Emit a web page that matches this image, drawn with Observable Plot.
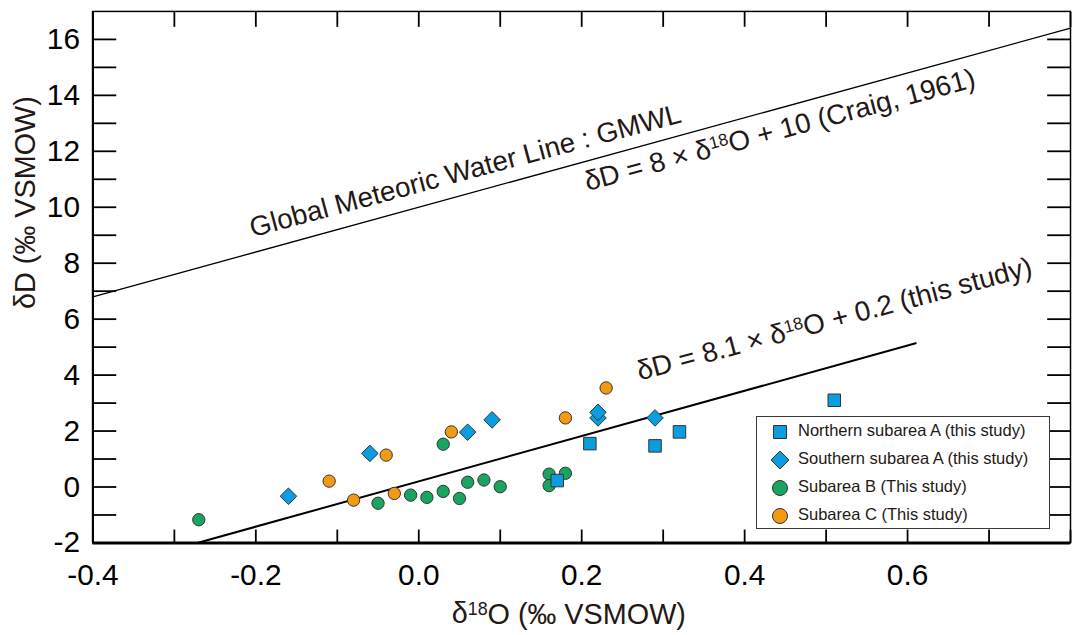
<!DOCTYPE html>
<html>
<head>
<meta charset="utf-8">
<script src="https://cdn.jsdelivr.net/npm/d3@7"></script>
<script src="https://cdn.jsdelivr.net/npm/@observablehq/plot@0.6"></script>
<style>
  html, body { margin: 0; padding: 0; overflow: hidden; background: #fff; }
  #wrap { position: relative; width: 1073px; height: 635px; overflow: hidden; }
  #legend {
    position: absolute; left: 756px; top: 416px; width: 294px; height: 113px;
    box-sizing: border-box; border: 1.5px solid #3a3a3a; background: #fff;
    font-family: "Liberation Sans", Arial, sans-serif; font-size: 16.5px; color: #231815;
  }
  #legend .row { position: relative; height: 28px; display: flex; align-items: center; }
  #legend svg { position: absolute; left: 11px; top: 3px; }
  #legend span { position: absolute; left: 41px; top: 4px; white-space: nowrap; }
</style>
</head>
<body>
<div id="wrap"></div>
<script>
// ---- Data ----
const northX = [0.17, 0.21, 0.29, 0.32, 0.51];
const northY = [0.23, 1.55, 1.47, 1.97, 3.10];

const southX = [-0.16, -0.06, 0.06, 0.09, 0.22, 0.22, 0.29];
const southY = [-0.33, 1.20, 1.96, 2.40, 2.47, 2.67, 2.47];

const subBX = [-0.27, -0.05, -0.01, 0.01, 0.03, 0.05, 0.03, 0.06, 0.08, 0.10, 0.16, 0.18, 0.16];
const subBY = [-1.17, -0.58, -0.29, -0.37, -0.16, -0.41, 1.53, 0.17, 0.25, 0.01, 0.46, 0.49, 0.05];

const subCX = [-0.11, -0.08, -0.04, -0.03, 0.04, 0.18, 0.23];
const subCY = [0.21, -0.47, 1.14, -0.23, 1.97, 2.47, 3.54];

// Lines: GMWL (δD = 8δ18O + 10) and this study (δD = 8.1δ18O + 0.2), endpoints
const gmwlX = [-0.4, 0.8];
const gmwlY = [6.8, 16.4];
const studyX = [-0.272, 0.61];
const studyY = [-2.0, 5.14];

// Annotation texts
const annText = ["Global Meteoric Water Line : GMWL", "δD = 8 × δ{18}O + 10 (Craig, 1961)", "δD = 8.1 × δ{18}O + 0.2 (this study)"];
const annX = [0.060, 0.446, 0.513];
const annY = [10.99, 12.45, 5.69];

// Ticks
const xMinor = [-0.4, -0.3, -0.2, -0.1, 0, 0.1, 0.2, 0.3, 0.4, 0.5, 0.6, 0.7, 0.8];
const xMajor = [-0.4, -0.2, 0, 0.2, 0.4, 0.6];
const yMinor = [-1, 0, 1, 2, 3, 4, 5, 6, 7, 8, 9, 10, 11, 12, 13, 14, 15, 16];
const yMajor = [-2, 0, 2, 4, 6, 8, 10, 12, 14, 16];

const seriesNames = ["Northern subarea A (this study)", "Southern subarea A (this study)", "Subarea B (This study)", "Subarea C (This study)"];
const seriesColors = ["#0a9de0", "#0a9de0", "#19a462", "#f39a12"];
const seriesSymbols = ["square", "diamond2", "circle", "circle"];

const textColor = "#231815";
const pts = (xs, ys) => xs.map((x, i) => ({x, y: ys[i]}));

const chart = Plot.plot({
  width: 1080,
  height: 635,
  marginLeft: 93,
  marginRight: 3,
  marginTop: 11,
  marginBottom: 89,
  style: {fontFamily: "'Liberation Sans', Arial, sans-serif", fontSize: "30px", background: "white", color: "black"},
  x: {domain: [-0.4, 0.8], label: null},
  y: {domain: [-2, 17], label: null},
  marks: [
    Plot.frame({stroke: "black", strokeWidth: 1.5}),
    Plot.ruleY([-2], {stroke: "black", strokeWidth: 3}),
    Plot.ruleX([-0.4], {stroke: "black", strokeWidth: 2.2}),
    // inward ticks
    Plot.axisX(xMinor, {anchor: "bottom", tickSize: 13, insetBottom: 13, fill: "none", strokeWidth: 1.8, label: null}),
    Plot.axisX(xMinor, {anchor: "top", tickSize: 15, insetTop: 15, fill: "none", strokeWidth: 1.8, label: null}),
    Plot.axisY(yMinor, {anchor: "left", tickSize: 24, insetLeft: 24, fill: "none", strokeWidth: 1.8, label: null}),
    Plot.axisY(yMinor, {anchor: "right", tickSize: 24, insetRight: 24, fill: "none", strokeWidth: 1.8, label: null}),
    // tick labels
    Plot.axisX(xMajor, {anchor: "bottom", tickSize: 0, tickPadding: 21, fontSize: 30, tickFormat: d => d.toFixed(1), label: null}),
    Plot.axisY(yMajor, {anchor: "left", tickSize: 0, tickPadding: 13, fontSize: 30, tickFormat: d => String(d), label: null}),
    // axis titles
    Plot.text(["δ{18}O (‰ VSMOW)"], {text: d => d, frameAnchor: "bottom", dx: -13, dy: 81, lineAnchor: "bottom", fontSize: 29, fill: textColor}),
    Plot.text(["δD (‰ VSMOW)"], {text: d => d, frameAnchor: "left", rotate: -90, dx: -68, dy: 32, lineAnchor: "middle", fontSize: 29, fill: textColor}),
    // lines
    Plot.line(pts(gmwlX, gmwlY), {x: "x", y: "y", stroke: "black", strokeWidth: 1.3}),
    Plot.line(pts(studyX, studyY), {x: "x", y: "y", stroke: "black", strokeWidth: 2}),
    // annotations
    Plot.text(annText.map((t, i) => ({t, x: annX[i], y: annY[i]})), {x: "x", y: "y", text: "t", rotate: -15, textAnchor: "middle", lineAnchor: "bottom", fontSize: 28, fill: textColor}),
    // points
    Plot.dot(pts(subBX, subBY), {x: "x", y: "y", symbol: seriesSymbols[2], r: 6.2, fill: seriesColors[2], stroke: "#333", strokeWidth: 1}),
    Plot.dot(pts(subCX, subCY), {x: "x", y: "y", symbol: seriesSymbols[3], r: 6.2, fill: seriesColors[3], stroke: "#333", strokeWidth: 1}),
    Plot.dot(pts(southX, southY), {x: "x", y: "y", symbol: seriesSymbols[1], r: 7.5, fill: seriesColors[1], stroke: "#333", strokeWidth: 1}),
    Plot.dot(pts(northX, northY), {x: "x", y: "y", symbol: seriesSymbols[0], r: 7.1, fill: seriesColors[0], stroke: "#333", strokeWidth: 1})
  ]
});

// superscript "18"
d3.select(chart).selectAll("text").each(function() {
  const s = this.textContent;
  if (!s.includes("{18}")) return;
  const [a, b] = s.split("{18}");
  const t = d3.select(this);
  t.text(null);
  t.append("tspan").text(a);
  t.append("tspan").attr("font-size", "0.62em").attr("dy", "-0.48em").text("18");
  t.append("tspan").attr("dy", "0.3em").text(b);
});

const wrap = document.getElementById("wrap");
wrap.appendChild(chart);

// legend
const legend = d3.select(wrap).append("div").attr("id", "legend");
const symMap = {square: [d3.symbolSquare, 169], diamond2: [d3.symbolDiamond2, 206], circle: [d3.symbolCircle, 177]};
seriesNames.forEach((name, i) => {
  const row = legend.append("div").attr("class", "row");
  const svg = row.append("svg").attr("width", 24).attr("height", 24);
  const [type, size] = symMap[seriesSymbols[i]];
  svg.append("path")
    .attr("transform", "translate(12,12)")
    .attr("d", d3.symbol(type, size)())
    .attr("fill", seriesColors[i])
    .attr("stroke", "#333")
    .attr("stroke-width", 1);
  row.append("span").text(name);
});
</script>
</body>
</html>
